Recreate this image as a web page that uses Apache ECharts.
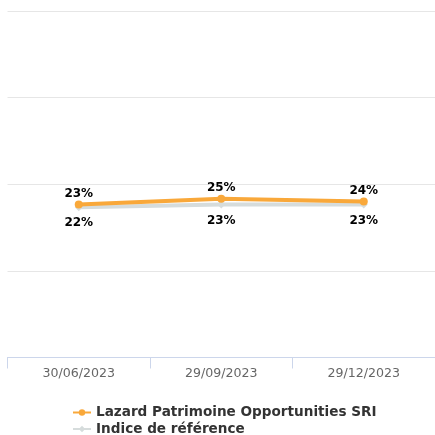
<!DOCTYPE html>
<html>
<head>
<meta charset="utf-8">
<style>
html,body{margin:0;padding:0;background:#fff;}
#chart{width:435px;height:435px;}
</style>
<script src="https://cdn.jsdelivr.net/npm/echarts@6/dist/echarts.min.js"></script>
</head>
<body>
<div id="chart"></div>
<script>
var categories = ['30/06/2023', '29/09/2023', '29/12/2023'];
var fundName = 'Lazard Patrimoine Opportunities SRI';
var benchName = 'Indice de référence';
var fundValues = [23, 25, 24];
var benchValues = [22, 23, 23];

var chart = echarts.init(document.getElementById('chart'), null, {renderer: 'canvas'});
var font = 'DejaVu Sans';
function legendAt(name, top) {
  return {
    orient: 'horizontal',
    left: 67,
    top: top,
    padding: [0, 5],
    itemWidth: 18,
    itemHeight: 8,
    data: [name],
    textStyle: {fontFamily: font, fontWeight: 'bold', fontSize: 13.6, color: '#333333', lineHeight: 16}
  };
}
chart.setOption({
  backgroundColor: '#ffffff',
  animation: false,
  grid: {left: 7.5, right: -5, top: 11, bottom: 77.5},
  legend: [legendAt(fundName, 404.5), legendAt(benchName, 421)],
  xAxis: {
    type: 'category',
    data: categories,
    boundaryGap: true,
    axisLine: {onZero: false, lineStyle: {color: '#ccd6eb', width: 1}},
    axisTick: {show: true, length: 11, alignWithLabel: false, lineStyle: {color: '#ccd6eb'}},
    axisLabel: {margin: 10, color: '#666666', fontFamily: font, fontSize: 12.6}
  },
  yAxis: {
    type: 'value',
    min: -30,
    max: 90,
    interval: 30,
    axisLabel: {show: false},
    axisLine: {show: false},
    axisTick: {show: false},
    splitLine: {lineStyle: {color: '#e6e6e6', width: 1}}
  },
  series: [
    {
      name: benchName,
      type: 'line',
      data: benchValues,
      z: 2,
      symbol: 'diamond',
      symbolSize: 8,
      lineStyle: {color: '#d6dcdc', width: 4},
      itemStyle: {color: '#d6dcdc'},
      label: {
        show: true,
        position: 'bottom',
        distance: 6,
        formatter: '{c}%',
        color: '#000000',
        fontFamily: font,
        fontWeight: 'bold',
        fontSize: 12
      }
    },
    {
      name: fundName,
      type: 'line',
      data: fundValues,
      z: 3,
      symbol: 'circle',
      symbolSize: 8,
      lineStyle: {color: '#f9a83a', width: 4},
      itemStyle: {color: '#f9a83a'},
      label: {
        show: true,
        position: 'top',
        distance: 1,
        formatter: '{c}%',
        color: '#000000',
        fontFamily: font,
        fontWeight: 'bold',
        fontSize: 12
      }
    }
  ]
});
</script>
</body>
</html>
